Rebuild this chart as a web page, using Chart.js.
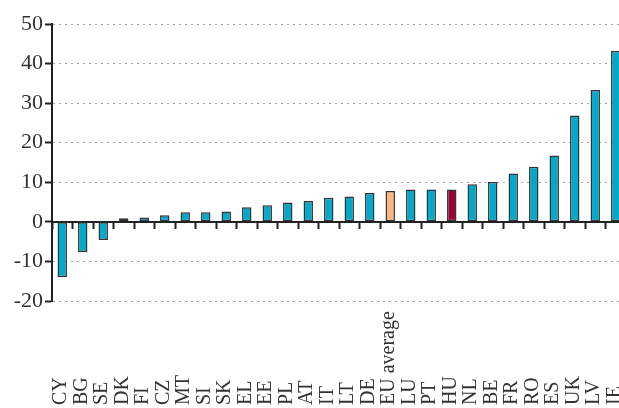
<!DOCTYPE html>
<html>
<head>
<meta charset="utf-8">
<script src="https://cdn.jsdelivr.net/npm/chart.js@4"></script>
<style>
  html, body { margin: 0; padding: 0; background: #fff; overflow: hidden; }
  #wrap { width: 626px; height: 408px; }
</style>
</head>
<body>
<div id="wrap"><canvas id="chart"></canvas></div>
<script>
const countries = ['CY', 'BG', 'SE', 'DK', 'FI', 'CZ', 'MT', 'SI', 'SK', 'EL', 'EE', 'PL', 'AT', 'IT',
  'LT', 'DE', 'EU average', 'LU', 'PT', 'HU', 'NL', 'BE', 'FR', 'RO', 'ES', 'UK', 'LV', 'IE'];
const values = [-14.0, -7.7, -4.6, 0.9, 1.1, 1.7, 2.4, 2.4, 2.6, 3.7, 4.2, 4.9, 5.3, 6.1,
  6.4, 7.3, 7.8, 8.2, 8.2, 8.2, 9.5, 10.1, 12.2, 13.9, 16.8, 26.9, 33.3, 43.2];
const yTicks = [-20, -10, 0, 10, 20, 30, 40, 50];

const serif = '"Liberation Serif", "DejaVu Serif", serif';
const barColor = c => c === 'EU average' ? '#fdb47e' : (c === 'HU' ? '#990033' : '#00a8cb');

// category labels sit at the bottom edge and read upward
const bottomLabels = {
  id: 'bottomLabels',
  afterDraw(chart) {
    const ctx = chart.ctx;
    const x = chart.scales.x;
    ctx.save();
    ctx.fillStyle = '#333';
    ctx.font = '20px ' + serif;
    ctx.textAlign = 'left';
    ctx.textBaseline = 'alphabetic';
    countries.forEach((c, i) => {
      ctx.save();
      ctx.translate(x.getPixelForValue(i) + 4, 405);
      ctx.rotate(-Math.PI / 2);
      ctx.fillText(c, 0, 0);
      ctx.restore();
    });
    ctx.restore();
  }
};

new Chart(document.getElementById('chart'), {
  type: 'bar',
  data: {
    labels: countries,
    datasets: [{
      data: values,
      backgroundColor: countries.map(barColor),
      borderColor: '#333',
      borderWidth: 1.5,
      borderSkipped: false,
      barPercentage: 0.46,
      categoryPercentage: 1
    }]
  },
  options: {
    responsive: true,
    maintainAspectRatio: false,
    animation: false,
    layout: { padding: { top: 24, bottom: 107, left: 0, right: 0 } },
    plugins: { legend: { display: false }, tooltip: { enabled: false } },
    scales: {
      x: {
        position: { y: 0 },
        offset: true,
        ticks: { display: false },
        grid: { offset: true, drawOnChartArea: false, tickLength: 6, tickColor: '#222', tickWidth: 2 },
        border: { color: '#222', width: 2 }
      },
      y: {
        min: yTicks[0],
        max: yTicks[yTicks.length - 1],
        afterFit: s => { s.width = 52; },
        ticks: {
          stepSize: 10,
          color: '#333',
          padding: 2,
          font: { family: serif, size: 22 }
        },
        grid: { color: '#a0a0a0', lineWidth: 1, tickLength: 7, tickColor: '#222', tickWidth: 2 },
        border: { color: '#222', width: 2, dash: [2, 4] }
      }
    }
  },
  plugins: [bottomLabels]
});
</script>
</body>
</html>
